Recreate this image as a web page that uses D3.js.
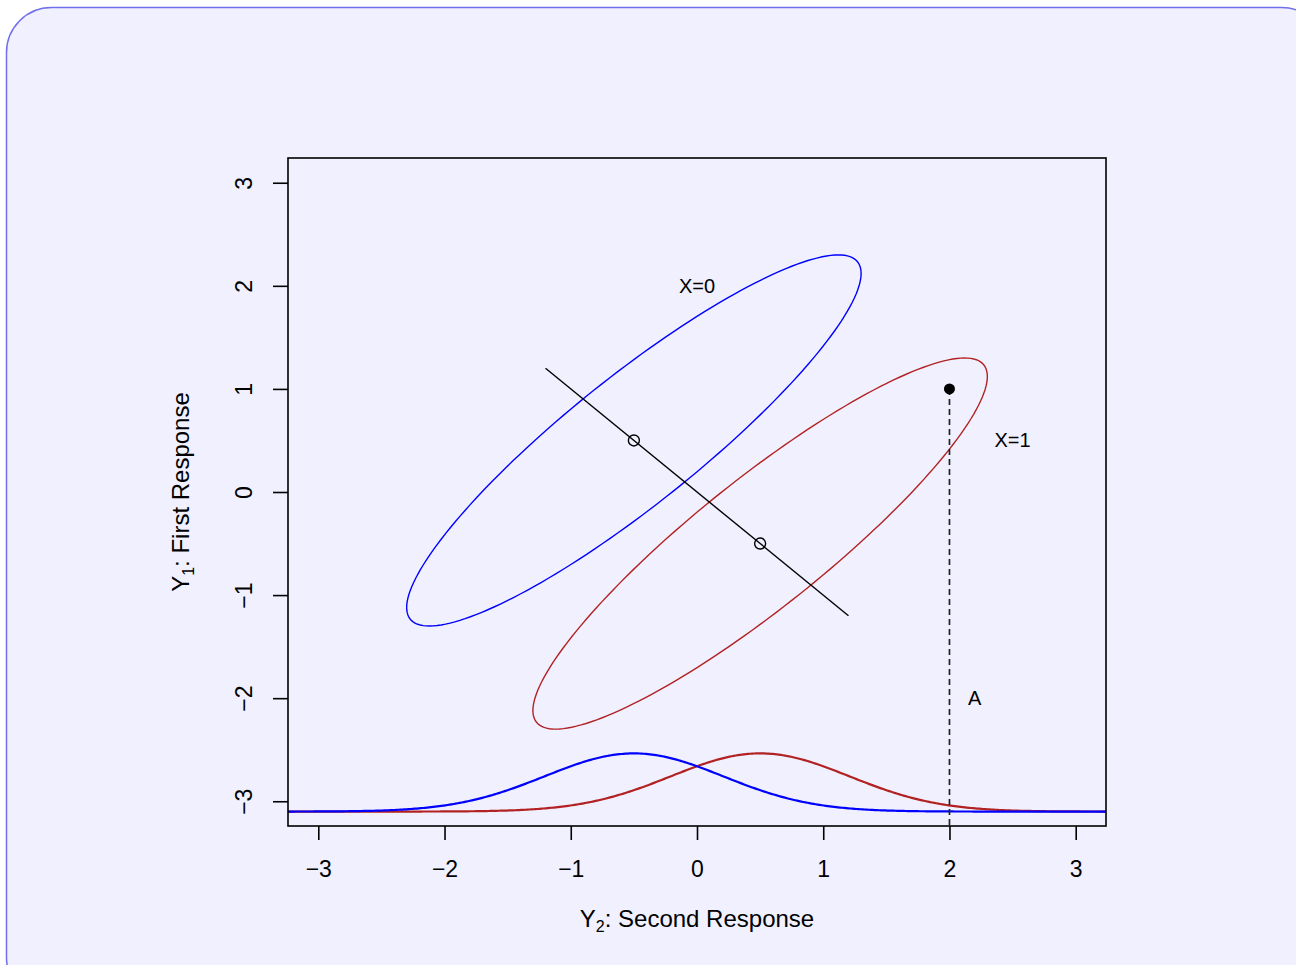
<!DOCTYPE html>
<html>
<head>
<meta charset="utf-8">
<script src="https://cdn.jsdelivr.net/npm/d3@7"></script>
<style>
  html, body { margin: 0; padding: 0; background: #ffffff; }
  svg { display: block; font-family: "Liberation Sans", Arial, sans-serif; }
</style>
</head>
<body>
<svg width="1296" height="965"></svg>
<script>
// groups: ellipse centres (Y2, Y1) and labels
var groups = ["X=0", "X=1"];
var centreY2 = [-0.5, 0.5];
var centreY1 = [0.5, -0.5];
var labelY2 = [0, 2.5];
var labelY1 = [2, 0.5];
// ellipse half-extent and correlation, marginal density sd and baseline
var spread = 1.8, rho = 0.9;
var densSd = 0.707, densBase = -3.1;
// line through the two centres
var segY2 = [-1.2, 1.2];
var segY1 = [1.2, -1.2];
// observed point A
var pointY2 = 2, pointY1 = 1;
var labelA = {y2: 2.2, y1: -2, text: "A"};
var ticks = [-3, -2, -1, 0, 1, 2, 3];

var svg = d3.select("svg");
var colors = ["#0000ff", "#b22222"];

svg.append("rect")
    .attr("x", 6.5).attr("y", 7.5)
    .attr("width", 1320).attr("height", 995)
    .attr("rx", 45).attr("ry", 45)
    .attr("fill", "#f0f0ff")
    .attr("stroke", "#6f6fee")
    .attr("stroke-width", 1.5);

var margin = {left: 288, top: 158, right: 1106, bottom: 826};
var x = d3.scaleLinear().domain([-3.24, 3.24]).range([margin.left, margin.right]);
var y = d3.scaleLinear().domain([-3.24, 3.24]).range([margin.bottom, margin.top]);

var g = svg.append("g");

// ellipses
var line = d3.line().x(function(d) { return x(d[0]); }).y(function(d) { return y(d[1]); });
var steps = d3.range(0, 361, 2);
groups.forEach(function(name, i) {
  var pts = steps.map(function(a) {
    var t = a * Math.PI / 180;
    return [centreY2[i] + spread * Math.cos(t),
            centreY1[i] + spread * (rho * Math.cos(t) + Math.sqrt(1 - rho * rho) * Math.sin(t))];
  });
  g.append("path")
      .attr("d", line(pts) + "Z")
      .attr("fill", "none")
      .attr("stroke", colors[i])
      .attr("stroke-width", 1.4);
});

// marginal densities of Y2 (red drawn first, blue on top)
var grid = d3.range(0, 401).map(function(k) { return -3.24 + k * 6.48 / 400; });
[1, 0].forEach(function(i) {
  var pts = grid.map(function(v) {
    var z = (v - centreY2[i]) / densSd;
    return [v, densBase + Math.exp(-z * z / 2) / (densSd * Math.sqrt(2 * Math.PI))];
  });
  g.append("path")
      .attr("d", line(pts))
      .attr("fill", "none")
      .attr("stroke", colors[i])
      .attr("stroke-width", 2.2);
});

// segment through centres
g.append("line")
    .attr("x1", x(segY2[0])).attr("y1", y(segY1[0]))
    .attr("x2", x(segY2[1])).attr("y2", y(segY1[1]))
    .attr("stroke", "#000").attr("stroke-width", 1.4);

g.selectAll(".centre")
  .data(groups)
  .enter().append("circle")
    .attr("class", "centre")
    .attr("cx", function(d, i) { return x(centreY2[i]); })
    .attr("cy", function(d, i) { return y(centreY1[i]); })
    .attr("r", 5.5)
    .attr("fill", "none")
    .attr("stroke", "#000")
    .attr("stroke-width", 1.4);

// dashed drop from point
g.append("line")
    .attr("x1", x(pointY2)).attr("y1", y(pointY1))
    .attr("x2", x(pointY2)).attr("y2", margin.bottom)
    .attr("stroke", "#222").attr("stroke-width", 1.7)
    .attr("stroke-dasharray", "6,4");

g.append("circle")
    .attr("cx", x(pointY2)).attr("cy", y(pointY1))
    .attr("r", 5.5).attr("fill", "#000");

// text labels
g.selectAll(".glabel")
  .data(groups)
  .enter().append("text")
    .attr("class", "glabel")
    .attr("x", function(d, i) { return x(labelY2[i]); })
    .attr("y", function(d, i) { return y(labelY1[i]); })
    .attr("dy", "0.35em")
    .attr("text-anchor", "middle")
    .style("font-size", "20px")
    .text(function(d) { return d; });

g.append("text")
    .attr("x", x(labelA.y2)).attr("y", y(labelA.y1))
    .attr("dy", "0.35em")
    .attr("text-anchor", "middle")
    .style("font-size", "20px")
    .text(labelA.text);

// box
svg.append("rect")
    .attr("x", margin.left).attr("y", margin.top)
    .attr("width", margin.right - margin.left).attr("height", margin.bottom - margin.top)
    .attr("fill", "none").attr("stroke", "#000").attr("stroke-width", 1.6);

// axes
var fmt = d3.format("d");
var ax = svg.append("g")
    .attr("transform", "translate(0," + margin.bottom + ")")
    .call(d3.axisBottom(x).tickValues(ticks).tickSize(14).tickPadding(21).tickFormat(fmt));
var ay = svg.append("g")
    .attr("transform", "translate(" + margin.left + ",0)")
    .call(d3.axisLeft(y).tickValues(ticks).tickSize(15).tickFormat(fmt));

[ax, ay].forEach(function(a) {
  a.select(".domain").remove();
  a.selectAll(".tick line").attr("stroke", "#000").attr("stroke-width", 1.6);
  a.selectAll(".tick text")
      .attr("fill", "#000")
      .style("font-size", "23px")
      .style("font-family", "'Liberation Sans', Arial, sans-serif");
});
ax.selectAll(".tick text").attr("dy", "0.71em");
ay.selectAll(".tick text")
    .attr("x", null).attr("dy", null)
    .attr("text-anchor", "middle")
    .attr("transform", "translate(-44,0) rotate(-90)")
    .attr("y", 0)
    .attr("dy", "0.35em");

// axis titles
var xt = svg.append("text")
    .attr("x", 697).attr("y", 927)
    .attr("text-anchor", "middle")
    .style("font-size", "24px");
xt.append("tspan").text("Y");
xt.append("tspan").attr("dy", 5).style("font-size", "16px").text("2");
xt.append("tspan").attr("dy", -5).text(": Second Response");

var yt = svg.append("text")
    .attr("transform", "translate(189,492) rotate(-90)")
    .attr("text-anchor", "middle")
    .style("font-size", "24px");
yt.append("tspan").text("Y");
yt.append("tspan").attr("dy", 5).style("font-size", "16px").text("1");
yt.append("tspan").attr("dy", -5).text(": First Response");
</script>
</body>
</html>
